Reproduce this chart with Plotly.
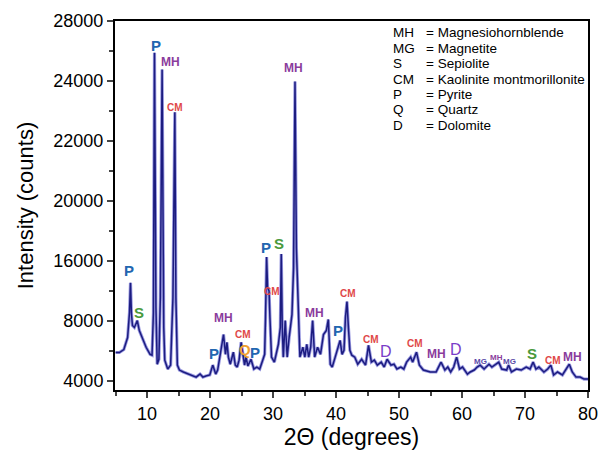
import plotly.graph_objects as go

# ---- XRD pattern (2-theta in degrees, intensity on the chart's linear scale) ----
two_theta = [5.0, 5.6, 6.3, 6.9, 7.2, 7.36, 7.5, 7.67, 7.98, 8.44, 8.76, 9.22, 9.84, 10.47, 10.78,
             11.0, 11.17, 11.4, 11.6, 11.87, 12.1, 12.38, 12.64, 12.8, 13.27, 13.73, 14.1, 14.4, 14.57,
             14.8, 15.13, 15.75, 16.84, 17.78, 18.4, 18.86, 19.33, 19.95, 20.42, 20.89, 21.2, 21.51,
             21.82, 22.13, 22.44, 22.67, 22.9, 23.2, 23.69, 24.0, 24.3, 24.6, 24.93, 25.24, 25.47,
             25.7, 26.0, 26.49, 26.95, 27.42, 27.88, 28.35, 28.66, 28.8, 28.97, 29.13, 29.36, 29.5,
             29.75, 30.2, 30.84, 31.15, 31.3, 31.46, 31.62, 31.93, 32.24, 32.55, 33.0, 33.25, 33.48,
             33.7, 33.95, 34.26, 34.73, 35.04, 35.35, 35.66, 35.97, 36.28, 36.6, 37.06, 37.53, 38.0,
             38.46, 38.77, 39.08, 39.39, 39.86, 40.33, 40.64, 40.95, 41.26, 41.49, 41.73, 41.96,
             42.19, 42.5, 42.97, 43.44, 44.06, 44.68, 45.15, 45.61, 46.08, 46.55, 47.17, 47.64, 48.1,
             48.72, 49.19, 49.66, 50.28, 50.75, 51.2, 51.84, 52.15, 52.77, 53.23, 53.86, 54.95,
             55.88, 56.66, 57.28, 57.74, 58.2, 58.68, 59.14, 59.6, 60.08, 60.86, 61.3, 61.94, 62.4,
             62.88, 63.5, 64.28, 64.74, 65.2, 65.83, 66.3, 67.08, 67.39, 67.85, 68.63, 69.4, 70.19,
             70.8, 71.28, 71.74, 72.2, 73.0, 73.6, 74.1, 74.54, 75.16, 75.94, 76.56, 77.03, 77.5,
             78.1, 78.74, 79.36, 80.0]
intensity = [5900, 5900, 6100, 6900, 8560, 10550, 8560, 7700, 7570, 8030, 7370, 6900, 6250, 5780, 5720,
             8560, 25880, 8900, 5120, 5450, 9550, 24760, 7570, 5390, 4800, 5060, 9550, 21910, 9550,
             5060, 4730, 4600, 4400, 4260, 4460, 4260, 4330, 4400, 5060, 4460, 4730, 5590,
             6250, 7100, 5780, 6580, 5590, 5120, 5920, 5060, 4930, 5390, 6580, 5720, 5060,
             5590, 5000, 5450, 4800, 4930, 4800, 5390, 5780, 8230, 12260, 10210, 10000, 8230,
             5590, 5260, 6450, 7570, 12460, 7570, 5590, 8030, 5590, 6910, 8430, 11540, 23960,
             12860, 8890, 5590, 6250, 5590, 6450, 5590, 6250, 8030, 5590, 6250, 5780, 7100,
             7370, 8100, 5120, 4930, 5590, 6250, 6710, 5780, 6050, 8230, 9290, 7570,
             6050, 5720, 5590, 5120, 5450, 5060, 6380, 5260, 5390, 5060, 5260, 4930, 5450,
             5060, 5120, 4800, 4930, 4800, 5260, 5590, 5260, 5920, 5060, 4730, 4600,
             4600, 5260, 4730, 4930, 4600, 4930, 5590, 4800, 4930, 4460, 4600, 4730, 4930,
             5060, 4800, 5120, 4930, 5060, 5260, 4800, 4730, 5060, 4600, 4800, 4730, 4930,
             4800, 5260, 4800, 4930, 4600, 4800, 5060, 4400, 4600, 4400, 4800, 5120, 4600,
             4260, 4260, 4130, 4130]

# ---- axis ticks ----
y_tickvals = [4000, 8000, 12000, 16000, 20000, 24000, 28000]
y_ticktext = ["4000", "8000", "16000", "20000", "22000", "24000", "28000"]
x_tickvals = [10, 20, 30, 40, 50, 60, 70, 80]

# ---- peak labels ----
peak_text = ["P", "S", "P", "MH", "CM", "P", "MH", "CM", "Q", "P", "P", "CM", "S", "MH", "MH", "P",
             "CM", "CM", "D", "CM", "MH", "D", "MG", "MH", "MG", "S", "CM", "MH"]
peak_x = [7.2, 8.76, 11.4, 13.7, 14.5, 20.6, 22.1, 25.2, 25.55, 27.1, 28.8, 29.9, 31.0, 33.2, 36.6, 40.3,
          41.9, 45.5, 48.0, 52.6, 55.9, 59.1, 62.9, 65.4, 67.5, 71.1, 74.5, 77.5]
peak_y = [11400, 8560, 26400, 25280, 22250, 5850, 8230, 7100, 6120, 5920, 12920, 9950, 13190, 24890,
          8560, 7370, 9820, 6780, 6000, 6510, 5780, 6120, 5320, 5590, 5320, 5850, 5390, 5590]

# ---- key ----
key_abbr = ["MH", "MG", "S", "CM", "P", "Q", "D"]
key_name = ["= Magnesiohornblende", "= Magnetite", "= Sepiolite", "= Kaolinite montmorillonite",
            "= Pyrite", "= Quartz", "= Dolomite"]

colors = {"P": "#2266b0", "S": "#4a9a3c", "MH": "#8a3c9c", "CM": "#e04848", "Q": "#f0a030",
          "D": "#7a3cc8", "MG": "#5a4aa8"}
sizes = {"P": 15, "S": 15, "MH": 12, "CM": 10, "Q": 15, "D": 16, "MG": 9}

FONT = "Arial, Liberation Sans, sans-serif"

fig = go.Figure()
fig.add_trace(go.Scatter(x=two_theta, y=intensity, mode="lines",
                         line=dict(color="#9a9ae0", width=3.2), hoverinfo="skip"))
fig.add_trace(go.Scatter(x=two_theta, y=intensity, mode="lines",
                         line=dict(color="#1c1c80", width=1.5)))

ann = []
for t, xx, yy in zip(peak_text, peak_x, peak_y):
    s = sizes[t]
    if t in ("MG",) or (t == "MH" and xx > 60 and xx < 70):
        s = 8
    ann.append(dict(x=xx, y=yy, text="<b>%s</b>" % t if t not in ("D",) else t, showarrow=False,
                    font=dict(family=FONT, size=s, color=colors[t]), xanchor="center", yanchor="middle"))

# key placed inside the plot area (paper coords)
plot_l, plot_r, plot_t, plot_b = 115, 598, 21, 393
for i, (a, n) in enumerate(zip(key_abbr, key_name)):
    ypx = 33 + 15.5 * i
    yp = (plot_b - ypx) / (plot_b - plot_t)
    ann.append(dict(x=(397 - plot_l) / (plot_r - plot_l), y=yp, xref="paper", yref="paper", text=a,
                    showarrow=False, xanchor="left", yanchor="middle",
                    font=dict(family=FONT, size=13.5, color="black")))
    ann.append(dict(x=(431 - plot_l) / (plot_r - plot_l), y=yp, xref="paper", yref="paper", text=n,
                    showarrow=False, xanchor="left", yanchor="middle",
                    font=dict(family=FONT, size=13.5, color="black")))

fig.update_layout(
    width=608, height=456,
    margin=dict(l=plot_l, r=608 - plot_r, t=plot_t, b=456 - plot_b),
    paper_bgcolor="white", plot_bgcolor="white",
    showlegend=False,
    annotations=ann,
    font=dict(family=FONT, color="black"),
)
fig.update_xaxes(range=[4.9, 80], tickvals=x_tickvals, ticks="outside", ticklen=6, tickwidth=1.5,
                 showline=True, linewidth=2, linecolor="black", mirror=True, showgrid=False, zeroline=False,
                 tickfont=dict(size=18, family=FONT), minor=dict(ticks="outside", ticklen=4, dtick=5, tick0=5),
                 title=dict(text="2Θ (degrees)", font=dict(size=23, family=FONT), standoff=6))
fig.update_yaxes(range=[3400, 28000], tickvals=y_tickvals, ticktext=y_ticktext, ticks="outside", ticklen=6,
                 tickwidth=1.5, showline=True, linewidth=2, linecolor="black", mirror=True, showgrid=False,
                 zeroline=False, tickfont=dict(size=18, family=FONT),
                 minor=dict(ticks="outside", ticklen=4, tickvals=[6000, 10000, 14000, 18000, 22000, 26000]),
                 title=dict(text="Intensity (counts)", font=dict(size=22, family=FONT), standoff=14))

fig.write_html("out.html")
